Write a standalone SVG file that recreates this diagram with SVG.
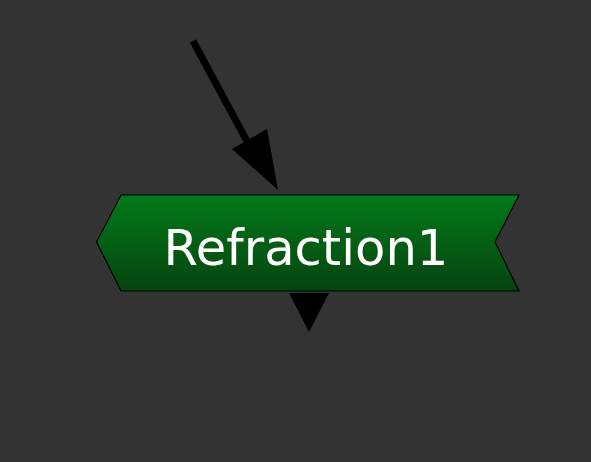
<svg xmlns="http://www.w3.org/2000/svg" width="591" height="462" viewBox="0 0 591 462">
<defs>
<linearGradient id="g" x1="0" y1="0" x2="0" y2="1">
<stop offset="0" stop-color="#037a19"/>
<stop offset="1" stop-color="#05430f"/>
</linearGradient>
<style>
.lbl{font-family:"DejaVu Sans","Verdana",sans-serif;font-size:49.6px;fill:#ffffff}
</style>
</defs>
<rect width="591" height="462" fill="#333333"/>
<g id="connectors">
<line x1="193" y1="41" x2="256" y2="158" stroke="#000" stroke-width="7"/>
<polygon points="232,149 267,129 278,190" fill="#000"/>
</g>
<g id="node-refraction1">
<polygon points="96.5,242 121,195 519,195 495,242 519,291 121,291" fill="url(#g)" stroke="#000" stroke-width="1.2"/>
<text class="lbl" x="306" y="264.5" text-anchor="middle">Refraction1</text>
<polygon points="289,293 329,293 309,332" fill="#000"/>
</g>
</svg>
